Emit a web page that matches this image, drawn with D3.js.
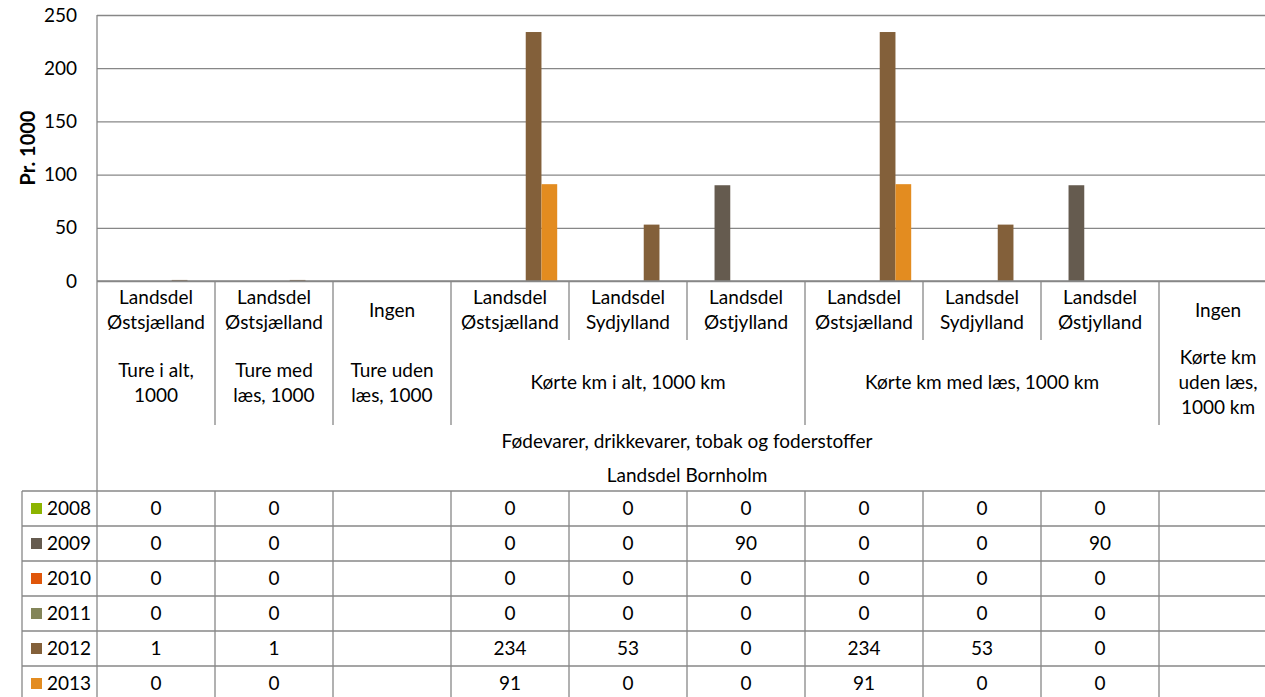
<!DOCTYPE html>
<html>
<head>
<meta charset="utf-8">
<script src="https://cdn.jsdelivr.net/npm/d3@7"></script>
<style>
  body { margin: 0; background: #fff; }
  svg { display: block; }
  text { font-family: Lato, "Open Sans", sans-serif; fill: #000; }
</style>
</head>
<body>
<div id="chart"></div>
<script>
// data
var years = ["2008", "2009", "2010", "2011", "2012", "2013"];
var colors = ["#8cb400", "#655b4f", "#e0560a", "#838559", "#83603a", "#e38c20"];

var regions = ["Landsdel\nØstsjælland", "Landsdel\nØstsjælland", "Ingen",
               "Landsdel\nØstsjælland", "Landsdel\nSydjylland", "Landsdel\nØstjylland",
               "Landsdel\nØstsjælland", "Landsdel\nSydjylland", "Landsdel\nØstjylland", "Ingen"];
var measures = ["Ture i alt,\n1000", "Ture med\nlæs, 1000", "Ture uden\nlæs, 1000",
                "Kørte km i alt, 1000 km", "Kørte km med læs, 1000 km",
                "Kørte km\nuden læs,\n1000 km"];
var measureSpans = [1, 1, 1, 3, 3, 1];
var groupLabels = ["Fødevarer, drikkevarer, tobak og foderstoffer", "Landsdel Bornholm"];

var values = {
  "2008": [0, 0, null, 0, 0, 0, 0, 0, 0, null],
  "2009": [0, 0, null, 0, 0, 90, 0, 0, 90, null],
  "2010": [0, 0, null, 0, 0, 0, 0, 0, 0, null],
  "2011": [0, 0, null, 0, 0, 0, 0, 0, 0, null],
  "2012": [1, 1, null, 234, 53, 0, 234, 53, 0, null],
  "2013": [0, 0, null, 91, 0, 0, 91, 0, 0, null]
};
var yTicks = [0, 50, 100, 150, 200, 250];

var w = 1265, h = 697;
var left = 97, colW = 118;
var right = left + colW * regions.length;
var plotTop = 15, plotBottom = 281;
var lineCol = "#878787";
var fontSize = 19;

var svg = d3.select("#chart").append("svg")
  .attr("width", w).attr("height", h);

var x = d3.scaleBand()
  .domain(d3.range(regions.length))
  .range([left, right]);

var xs = d3.scaleBand()
  .domain(years)
  .range([0, x.bandwidth()])
  .paddingInner(0)
  .paddingOuter(0.75);

var y = d3.scaleLinear().domain([0, 250]).range([plotBottom, plotTop]);

// gridlines + tick labels
var yAxis = svg.append("g")
  .attr("transform", "translate(" + left + ",0)")
  .call(d3.axisLeft(y).tickValues(yTicks).tickSize(-(right - left)).tickPadding(20));
yAxis.select(".domain").remove();
yAxis.selectAll(".tick line").attr("stroke", lineCol).attr("stroke-width", 1.3);
yAxis.selectAll(".tick text")
  .style("font-size", fontSize + "px")
  .attr("fill", "#000");

svg.append("text")
  .attr("transform", "translate(28," + ((plotTop + plotBottom) / 2) + ") rotate(-90)")
  .attr("text-anchor", "middle")
  .attr("dy", "0.35em")
  .style("font-size", "20px")
  .style("font-weight", "bold")
  .text("Pr. 1000");

// bars
years.forEach(function(yr, si) {
  svg.append("g").selectAll("rect")
    .data(values[yr].map(function(v, i) { return {i: i, v: v}; })
      .filter(function(d) { return d.v; }))
    .enter()
    .append("rect")
    .attr("x", function(d) { return x(d.i) + xs(yr); })
    .attr("y", function(d) { return y(d.v); })
    .attr("width", xs.bandwidth())
    .attr("height", function(d) { return y(0) - y(d.v); })
    .attr("fill", colors[si]);
});

// multi-line centred text helper
function multiText(g, str, cx, cy, lh) {
  var lines = str.split("\n");
  var t = g.append("text")
    .attr("text-anchor", "middle")
    .style("font-size", fontSize + "px");
  lines.forEach(function(l, k) {
    t.append("tspan")
      .attr("x", cx)
      .attr("y", cy + (k - (lines.length - 1) / 2) * lh)
      .attr("dy", "0.35em")
      .text(l);
  });
}

var hdr = svg.append("g");
var row1 = [plotBottom, 340], row2 = [340, 425], tableTop = 491, rowH = 35;

// level 1: regions
regions.forEach(function(r, i) {
  multiText(hdr, r, x(i) + colW / 2, (row1[0] + row1[1]) / 2 - 0.5, 25);
});
// level 2: measures
var start = 0;
var groupEdges = [0];
measures.forEach(function(m, k) {
  var x0 = x(start), x1 = x(start + measureSpans[k] - 1) + colW;
  multiText(hdr, m, (x0 + x1) / 2, (row2[0] + row2[1]) / 2, 25);
  start += measureSpans[k];
  groupEdges.push(start);
});
// level 3
groupLabels.forEach(function(g, k) {
  multiText(hdr, g, (left + right) / 2, 441 + k * 34, 25);
});

// header separators
d3.range(1, regions.length).forEach(function(i) {
  var full = groupEdges.indexOf(i) >= 0;
  hdr.append("line")
    .attr("x1", x(i)).attr("x2", x(i))
    .attr("y1", plotBottom).attr("y2", full ? row2[1] : row1[1])
    .attr("stroke", lineCol).attr("stroke-width", 1.3);
});
hdr.append("line")
  .attr("x1", left).attr("x2", left)
  .attr("y1", plotTop).attr("y2", tableTop + rowH * years.length)
  .attr("stroke", lineCol).attr("stroke-width", 1.3);
hdr.append("line")
  .attr("x1", left).attr("x2", right)
  .attr("y1", plotBottom).attr("y2", plotBottom)
  .attr("stroke", lineCol).attr("stroke-width", 1.3);

// data table
var tbl = svg.append("g");
var legLeft = 22;
d3.range(years.length + 1).forEach(function(r) {
  tbl.append("line")
    .attr("x1", legLeft).attr("x2", right)
    .attr("y1", tableTop + r * rowH).attr("y2", tableTop + r * rowH)
    .attr("stroke", lineCol).attr("stroke-width", 1.3);
});
tbl.append("line")
  .attr("x1", legLeft).attr("x2", legLeft)
  .attr("y1", tableTop).attr("y2", tableTop + rowH * years.length)
  .attr("stroke", lineCol).attr("stroke-width", 1.3);
d3.range(1, regions.length + 1).forEach(function(i) {
  var xx = i < regions.length ? x(i) : right;
  tbl.append("line")
    .attr("x1", xx).attr("x2", xx)
    .attr("y1", tableTop).attr("y2", tableTop + rowH * years.length)
    .attr("stroke", lineCol).attr("stroke-width", 1.3);
});

years.forEach(function(yr, si) {
  var cy = tableTop + si * rowH + rowH / 2;
  tbl.append("rect")
    .attr("x", 31).attr("y", cy - 5.5)
    .attr("width", 11).attr("height", 11)
    .attr("fill", colors[si]);
  tbl.append("text")
    .attr("x", 47).attr("y", cy).attr("dy", "0.35em")
    .style("font-size", fontSize + "px")
    .text(yr);
  tbl.selectAll(null)
    .data(values[yr])
    .enter()
    .append("text")
    .attr("x", function(d, i) { return x(i) + colW / 2; })
    .attr("y", cy).attr("dy", "0.35em")
    .attr("text-anchor", "middle")
    .style("font-size", fontSize + "px")
    .text(function(d) { return d === null ? "" : d; });
});
</script>
</body>
</html>
